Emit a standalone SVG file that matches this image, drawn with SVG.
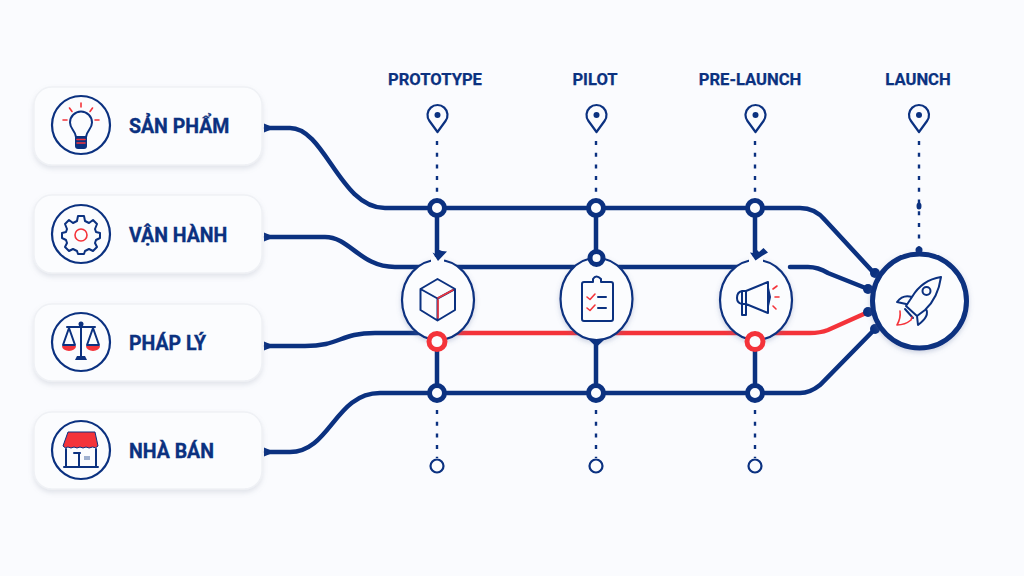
<svg xmlns="http://www.w3.org/2000/svg" width="1024" height="576" viewBox="0 0 1024 576">
<style>
.card{fill:#fbfcfe;stroke:#eff1f5;stroke-width:1.5;filter:url(#sh)}
.ring{fill:#fbfcfe;stroke:#0b3180;stroke-width:2.2}
.ic{fill:none;stroke:#0b3180;stroke-width:2;stroke-linejoin:round;stroke-linecap:round}
.icr{fill:none;stroke:#f4333a;stroke-width:1.6;stroke-linecap:round;stroke-linejoin:round}
.lb{font-family:"Roboto","Liberation Sans",sans-serif;font-weight:700;fill:#0b3180;stroke:#0b3180;stroke-width:.35;font-size:19.5px}
.hd{font-family:"Roboto","Liberation Sans",sans-serif;font-weight:700;fill:#0b3180;stroke:#0b3180;stroke-width:.25;font-size:16.6px;text-anchor:middle}
.ln{fill:none;stroke:#0b3180;stroke-width:4.5;stroke-linecap:round}
.red{fill:none;stroke:#f4333a;stroke-width:4.5;stroke-linecap:round}
.dash{stroke:#0b3180;stroke-width:2.4;stroke-dasharray:4 7.700;fill:none}
.nd{fill:#fbfcfe;stroke:#0b3180;stroke-width:5}
.ndr{fill:#fbfcfe;stroke:#f4333a;stroke-width:5}
.end{fill:#fbfcfe;stroke:#0b3180;stroke-width:2.2}
.st{fill:#fbfcfe;stroke:#0b3180;stroke-width:2.2;filter:url(#sh2)}
.pin{fill:none;stroke:#0b3180;stroke-width:2.2;stroke-linejoin:round}
.d{fill:#0b3180}
.bg{fill:#fbfcfe}
</style>
<defs>
<filter id="sh" x="-10%" y="-20%" width="120%" height="145%"><feDropShadow dx="0" dy="3" stdDeviation="2.500" flood-color="#8a93a6" flood-opacity=".22"/></filter>
<filter id="sh2" x="-20%" y="-20%" width="140%" height="140%"><feDropShadow dx="0" dy="2" stdDeviation="2.500" flood-color="#5b6f9e" flood-opacity=".3"/></filter>
</defs>
<rect width="1024" height="576" fill="#fafbfe"/>
<g id="connectors">
<path class="dash" d="M437 141V200M596 141V200M755 141V200M919 141V248M437 410V458M596 410V458M755 410V458"/>
<path class="ln" d="M266 128H290C325 128 340 208 385 208H800Q815 208 825 220L873 272"/>
<path class="ln" d="M266 237H325C350 237 360 267 395 267H760"/>
<path class="ln" d="M790 267H808Q818 267 828 273L868 289"/>
<path class="ln" d="M266 346H305C340 346 340 333 375 333H420"/>
<path class="red" d="M437 333H810Q820 333 828 330L866 313"/>
<path class="ln" d="M266 452H290C330 452 335 393 380 393H800Q810 393 820 385L875 329"/>
<path class="ln" d="M437 208V256M596 208V264M755 208V256M437 341V393M596 341V393M755 341V393"/>
<path class="d" d="M264 123.500L270 126V130L264 132.500ZM264 232.500L270 235V239L264 241.500ZM264 341.500L270 344V348L264 350.500ZM264 447.500L270 450V454L264 456.500Z"/>
<circle class="d" cx="875" cy="273" r="5"/><circle class="d" cx="868" cy="289" r="5"/><circle class="d" cx="868" cy="312" r="5"/><circle class="d" cx="875" cy="329" r="5"/>
<circle class="d" cx="919" cy="250" r="3.500"/><ellipse class="d" cx="919" cy="206" rx="2.500" ry="3.500"/>
</g>
<g id="card-san-pham"><rect class="card" x="34" y="87" width="228" height="78" rx="18"/><circle class="ring" cx="81" cy="125" r="29"/>
<path class="ic" d="M76 137C75 130 70 129 70 122.500A11 11 0 0 1 92 122.500C92 129 87 130 86 137Z"/>
<path d="M75 137H87V146Q87 149 84 149H78Q75 149 75 146Z" fill="#0b3180"/>
<path class="icr" d="M81 103V107M69.500 108L72 111.500M92.500 108L90 111.500M63 120H67M95 120H99M77 139.500H85M77 143H85"/>
<text class="lb" x="129" y="133">SẢN PHẨM</text></g>
<g id="card-van-hanh"><rect class="card" x="34" y="195" width="228" height="78" rx="18"/><circle class="ring" cx="81" cy="234" r="29"/>
<path class="ic" d="M78 216H84L85 221L89 223L93 220L97 224L95 229L96 232L100 233V238L96 240L95 243L97 247L93 251L89 249L85 251L84 254H78L77 251L73 249L69 251L65 247L67 243L66 240L62 238V233L66 232L67 229L65 224L69 220L73 223L77 221Z" stroke-width="1.800"/>
<circle class="icr" cx="81" cy="235" r="6" stroke-width="2.500"/>
<text class="lb" x="129" y="242">VẬN HÀNH</text></g>
<g id="card-phap-ly"><rect class="card" x="34" y="304" width="228" height="77" rx="18"/><circle class="ring" cx="81" cy="342" r="29"/>
<path class="ic" d="M81 325V357M67 327H95M69 328L63 345H75ZM93 328L87 345H99Z" stroke-width="1.700"/><circle class="d" cx="81" cy="324" r="2.500"/>
<path class="d" d="M75 360L77 356H85L87 360Z"/>
<path d="M62 346H76A7 5 0 0 1 62 346Z" fill="#f4333a"/><path d="M86 346H100A7 5 0 0 1 86 346Z" fill="#f4333a"/>
<text class="lb" x="129" y="350">PHÁP LÝ</text></g>
<g id="card-nha-ban"><rect class="card" x="34" y="412" width="228" height="77" rx="18"/><circle class="ring" cx="81" cy="450" r="29"/>
<path d="M68 432H95L98 446Q96 449 92.500 447Q89 449 86 447Q83 449 80 447Q77 449 74 447Q71 449 68 447Q65 449 63 446Z" fill="#f4333a" stroke="#0b3180" stroke-width="1"/>
<path class="ic" d="M66 449V467H96V449M64 467H98M79 467V453M74 453H80" stroke-width="1.800"/><rect x="84" y="456" width="6" height="4" fill="#9fb0cf"/>
<text class="lb" x="129" y="458">NHÀ BÁN</text></g>
<g id="stage-prototype"><text class="hd" x="435" y="84.500">PROTOTYPE</text>
<path class="pin" d="M437.500 132L429.500 121A10 10 0 1 1 445.500 121Z"/><circle class="d" cx="437.500" cy="115" r="3"/>
<ellipse class="st" cx="438" cy="300" rx="36" ry="40"/><rect class="bg" x="431" y="257" width="13" height="6"/><path class="d" d="M432.500 252.500L438 261L447 251.500L442 251L439.500 250H435.500V254Z"/>
<path class="ic" d="M437.500 279L455 289V310L437.500 320.500L420.500 310V289ZM420.500 289L437.500 298.500L455 289M437.500 298.500V320.500"/><path class="icr" d="M438 298L453 290M438 300V318" stroke-width="1"/>
<circle class="ndr" cx="437" cy="341.500" r="8"/><circle class="nd" cx="437" cy="208" r="7.500"/><circle class="nd" cx="437" cy="393" r="7.500"/><circle class="end" cx="437" cy="466" r="6.500"/></g>
<g id="stage-pilot"><text class="hd" x="595" y="84.500">PILOT</text>
<path class="pin" d="M596.500 132L588.500 121A10 10 0 1 1 604.500 121Z"/><circle class="d" cx="596.500" cy="115" r="3"/>
<ellipse class="st" cx="596.500" cy="299" rx="36" ry="41"/>
<circle class="nd" cx="596.500" cy="258" r="6.500"/><path class="d" d="M589 340H604L596.500 347Z"/>
<path class="ic" d="M590 282H584Q582 282 582 284V319Q582 321 584 321H611Q613 321 613 319V284Q613 282 611 282H605L601 282V279Q596 274 593 279V282Z"/><path class="ic" d="M598 297H606M598 308H606"/><path class="icr" d="M587 297L590 299.500L595 294M587 308L590 310.500L595 305" stroke-width="2"/>
<circle class="nd" cx="596" cy="208" r="7.500"/><circle class="nd" cx="596" cy="393" r="7.500"/><circle class="end" cx="596" cy="466" r="6.500"/></g>
<g id="stage-pre-launch"><text class="hd" x="750" y="84.500">PRE-LAUNCH</text>
<path class="pin" d="M755.500 132L747.500 121A10 10 0 1 1 763.500 121Z"/><circle class="d" cx="755.500" cy="115" r="3"/>
<ellipse class="st" cx="756" cy="300" rx="36" ry="40"/><rect class="bg" x="749" y="257" width="14" height="6"/><path class="d" d="M750 252.500L755.500 260.500L762 256L768 252.500L763.500 248L759 252L757 250H753.500V253Z"/>
<path class="ic" d="M746 291L768 282V313L746 304H742V315H746V304M746 291H742Q737 292 737 298Q737 303 742 304M746 291V304M742 291V304M768 288L770 297L768 306"/><path class="icr" d="M773 289L777 286M775 297H779M773 306L776 309" stroke-width="1.300"/>
<circle class="ndr" cx="755" cy="341.500" r="8"/><circle class="nd" cx="755" cy="208" r="7.500"/><circle class="nd" cx="755" cy="393" r="7.500"/><circle class="end" cx="755" cy="466" r="6.500"/></g>
<g id="stage-launch"><text class="hd" x="918" y="84.500">LAUNCH</text>
<path class="pin" d="M919 132L911 121A10 10 0 1 1 927 121Z"/><circle class="d" cx="919" cy="115" r="3"/>
<circle cx="919.500" cy="301" r="47" fill="#fbfcfe" stroke="#0b3180" stroke-width="5" filter="url(#sh2)"/>
<path class="ic" d="M941 277Q922 280 912 297L906 306L917 316L925 310Q938 298 941 277ZM912 297Q903 294 897 302L906 304M926 309Q930 316 918 325L917 316M905 309L913 318" stroke-width="1.800"/><circle class="ic" cx="926.500" cy="291" r="4" stroke-width="1.800"/>
<path class="icr" d="M900 311Q901 318 897 325Q905 325 911 320L912 317"/></g>
</svg>
